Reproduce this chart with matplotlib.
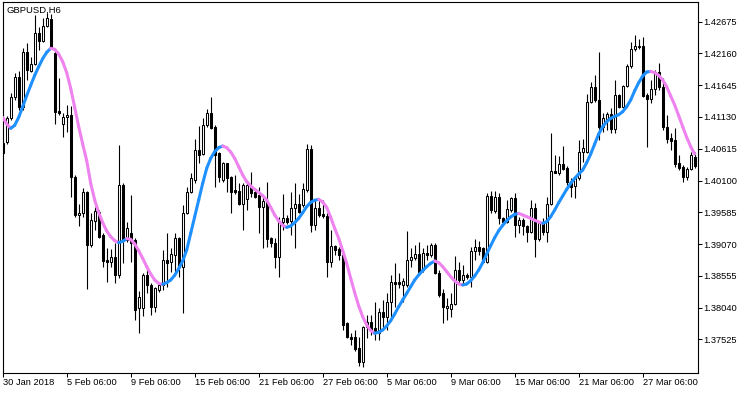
import matplotlib
matplotlib.use("Agg")
import matplotlib.pyplot as plt
from matplotlib.collections import LineCollection
import numpy as np

plt.rcParams['font.family'] = ['Liberation Sans', 'DejaVu Sans']

title = "GBPUSD,H6"

open_ = [1.40714, 1.40730, 1.41108, 1.41448, 1.41783, 1.41286, 1.42188, 1.41880, 1.41983, 1.42496,
         1.42366, 1.42604, 1.42712, 1.42172, 1.41232, 1.41016, 1.41124, 1.41162, 1.40163, 1.39537,
         1.39569, 1.39909, 1.39056, 1.39450, 1.39596, 1.39218, 1.38813, 1.38781, 1.38867, 1.38570,
         1.40028, 1.39137, 1.39256, 1.39137, 1.38030, 1.38030, 1.38570, 1.38408, 1.38057, 1.38327,
         1.38408, 1.38813, 1.38786, 1.38894, 1.39175, 1.38705, 1.39569, 1.39920, 1.40109, 1.40595,
         1.40530, 1.41000, 1.41189, 1.40973, 1.40541, 1.40109, 1.40379, 1.40163, 1.39947, 1.39936,
         1.39720, 1.39796, 1.40001, 1.39920, 1.39866, 1.39666, 1.39769, 1.39164, 1.39094, 1.38856,
         1.39434, 1.39488, 1.39450, 1.39650, 1.39720, 1.39704, 1.39947, 1.40611, 1.39380, 1.39650,
         1.39558, 1.39526, 1.38786, 1.39040, 1.38986, 1.38894, 1.37787, 1.37571, 1.37560, 1.37382,
         1.37166, 1.37722, 1.37814, 1.37706, 1.37625, 1.37976, 1.37895, 1.38138, 1.38462, 1.38457,
         1.38408, 1.38408, 1.38813, 1.38840, 1.38910, 1.38651, 1.38932, 1.38894, 1.39056, 1.38608,
         1.38273, 1.38030, 1.38014, 1.38100, 1.38651, 1.38489, 1.38570, 1.38532, 1.38964, 1.39018,
         1.39002, 1.38786, 1.39850, 1.39612, 1.39839, 1.39488, 1.39434, 1.39623, 1.39812, 1.39380,
         1.39461, 1.39364, 1.39272, 1.39650, 1.39148, 1.39407, 1.39272, 1.39715, 1.40260, 1.40228,
         1.40368, 1.40298, 1.40093, 1.40012, 1.40136, 1.40568, 1.40568, 1.41378, 1.41621, 1.41405,
         1.40973, 1.41092, 1.41178, 1.40930, 1.41486, 1.41297, 1.41632, 1.41956, 1.42226, 1.42258,
         1.42280, 1.41486, 1.41416, 1.41578, 1.41864, 1.41610, 1.40973, 1.40784, 1.40757, 1.40379,
         1.40314, 1.40163, 1.40287, 1.40487]

high = [1.40757, 1.41146, 1.41524, 1.41837, 1.41880, 1.42242, 1.42323, 1.42107, 1.42782, 1.42593,
        1.42728, 1.42809, 1.42798, 1.42215, 1.41756, 1.41189, 1.41324, 1.41308, 1.40190, 1.39720,
        1.39974, 1.39925, 1.39569, 1.39666, 1.39623, 1.39245, 1.39002, 1.38986, 1.39094, 1.40676,
        1.40055, 1.39434, 1.39866, 1.39164, 1.38316, 1.38597, 1.38662, 1.38435, 1.38381, 1.38424,
        1.38975, 1.39245, 1.39002, 1.39245, 1.39191, 1.39704, 1.40001, 1.40217, 1.40768, 1.40984,
        1.41108, 1.41254, 1.41459, 1.41000, 1.40568, 1.40406, 1.40390, 1.40174, 1.40190, 1.40055,
        1.40055, 1.40109, 1.40244, 1.39974, 1.40001, 1.39839, 1.40082, 1.39191, 1.39164, 1.39515,
        1.39882, 1.39542, 1.39920, 1.40055, 1.39882, 1.40066, 1.40692, 1.40676, 1.39785, 1.39785,
        1.39785, 1.39569, 1.39299, 1.39056, 1.39029, 1.38921, 1.37814, 1.37625, 1.37679, 1.37571,
        1.37744, 1.37922, 1.37922, 1.38138, 1.38030, 1.38165, 1.38273, 1.38570, 1.38759, 1.38597,
        1.38516, 1.39288, 1.39002, 1.39056, 1.39110, 1.39002, 1.39056, 1.39083, 1.39094, 1.38651,
        1.38338, 1.38192, 1.38273, 1.38878, 1.38786, 1.38732, 1.38608, 1.39029, 1.39148, 1.39126,
        1.39029, 1.39904, 1.39936, 1.39936, 1.39904, 1.39515, 1.39785, 1.39828, 1.39893, 1.39515,
        1.39488, 1.39380, 1.39785, 1.39731, 1.39434, 1.39488, 1.39839, 1.40876, 1.40514, 1.40498,
        1.40660, 1.40336, 1.40136, 1.40174, 1.40757, 1.40768, 1.41502, 1.41702, 1.41810, 1.42188,
        1.41189, 1.41216, 1.41270, 1.41729, 1.41502, 1.41648, 1.41988, 1.42350, 1.42458, 1.42388,
        1.42431, 1.41513, 1.41729, 1.41891, 1.41999, 1.41756, 1.41162, 1.40865, 1.40946, 1.40514,
        1.40352, 1.40325, 1.40568, 1.40568]

low = [1.40530, 1.40692, 1.41081, 1.41405, 1.41243, 1.41243, 1.41729, 1.41864, 1.41967, 1.42215,
       1.42350, 1.42582, 1.42226, 1.41016, 1.41162, 1.40811, 1.40892, 1.39839, 1.39504, 1.39364,
       1.39515, 1.38338, 1.39029, 1.39299, 1.39164, 1.38705, 1.38462, 1.38705, 1.38435, 1.38516,
       1.38759, 1.39110, 1.38786, 1.37841, 1.37625, 1.37906, 1.38273, 1.37922, 1.37976, 1.38300,
       1.38327, 1.38381, 1.38624, 1.38624, 1.38543, 1.37949, 1.39558, 1.39893, 1.40055, 1.40379,
       1.40514, 1.40973, 1.40930, 1.40001, 1.40082, 1.40082, 1.39920, 1.39569, 1.39882, 1.39704,
       1.39299, 1.39623, 1.39839, 1.39812, 1.39245, 1.39002, 1.39029, 1.39029, 1.38678, 1.38543,
       1.39299, 1.39396, 1.39218, 1.39002, 1.39569, 1.39677, 1.39920, 1.39272, 1.39299, 1.39515,
       1.39488, 1.38543, 1.38705, 1.38894, 1.38813, 1.37679, 1.37544, 1.37436, 1.37344, 1.37096,
       1.37085, 1.37544, 1.37598, 1.37517, 1.37517, 1.37706, 1.37679, 1.37841, 1.38057, 1.38354,
       1.38138, 1.38381, 1.38705, 1.38813, 1.38597, 1.38624, 1.38813, 1.38867, 1.38586, 1.38219,
       1.37787, 1.37841, 1.37895, 1.38084, 1.38435, 1.38408, 1.38500, 1.38381, 1.38813, 1.38894,
       1.38759, 1.38759, 1.39569, 1.39569, 1.39396, 1.39407, 1.39407, 1.39596, 1.39191, 1.39245,
       1.39218, 1.39110, 1.39245, 1.38867, 1.39126, 1.39218, 1.39110, 1.39704, 1.40217, 1.40190,
       1.40271, 1.40028, 1.39839, 1.39812, 1.40109, 1.40406, 1.40541, 1.41351, 1.41378, 1.40757,
       1.40892, 1.40919, 1.40865, 1.40865, 1.41270, 1.41270, 1.41610, 1.41918, 1.42204, 1.42226,
       1.41459, 1.40649, 1.41351, 1.41486, 1.41567, 1.40919, 1.40703, 1.40595, 1.40325, 1.40271,
       1.40082, 1.40109, 1.40271, 1.40298]

close = [1.40552, 1.41108, 1.41448, 1.41783, 1.41286, 1.42188, 1.41891, 1.41983, 1.42485, 1.42366,
         1.42604, 1.42728, 1.42242, 1.41216, 1.41200, 1.41135, 1.41162, 1.40152, 1.39542, 1.39569,
         1.39909, 1.39056, 1.39461, 1.39612, 1.39191, 1.38802, 1.38781, 1.38867, 1.38570, 1.40028,
         1.39126, 1.39337, 1.39083, 1.38003, 1.38219, 1.38570, 1.38408, 1.38057, 1.38354, 1.38408,
         1.38813, 1.38770, 1.38910, 1.39175, 1.38705, 1.39569, 1.39920, 1.40136, 1.40595, 1.40514,
         1.41000, 1.41189, 1.40946, 1.40514, 1.40163, 1.40390, 1.40136, 1.39920, 1.39909, 1.39720,
         1.40028, 1.40023, 1.39893, 1.39839, 1.39677, 1.39769, 1.39148, 1.39083, 1.38856, 1.39434,
         1.39488, 1.39434, 1.39650, 1.39720, 1.39596, 1.39958, 1.40611, 1.39380, 1.39650, 1.39542,
         1.39526, 1.38786, 1.39040, 1.38975, 1.38894, 1.37760, 1.37560, 1.37539, 1.37366, 1.37166,
         1.37722, 1.37814, 1.37668, 1.37625, 1.37976, 1.37895, 1.38138, 1.38462, 1.38424, 1.38419,
         1.38473, 1.38813, 1.38856, 1.38910, 1.38624, 1.38921, 1.38894, 1.39056, 1.38608, 1.38246,
         1.38046, 1.38068, 1.38100, 1.38651, 1.38489, 1.38570, 1.38532, 1.38964, 1.39029, 1.38964,
         1.38786, 1.39850, 1.39623, 1.39839, 1.39488, 1.39434, 1.39634, 1.39812, 1.39380, 1.39461,
         1.39364, 1.39272, 1.39650, 1.39148, 1.39407, 1.39272, 1.39715, 1.40260, 1.40228, 1.40368,
         1.40282, 1.40082, 1.40001, 1.40152, 1.40568, 1.40622, 1.41378, 1.41621, 1.41405, 1.40973,
         1.41108, 1.41178, 1.40930, 1.41486, 1.41297, 1.41632, 1.41956, 1.42226, 1.42280, 1.42280,
         1.41470, 1.41416, 1.41578, 1.41864, 1.41610, 1.40973, 1.40768, 1.40746, 1.40368, 1.40298,
         1.40163, 1.40287, 1.40514, 1.40336]

ma = [1.41124, 1.41016, 1.40946, 1.40995, 1.41124, 1.41297, 1.41475, 1.41643, 1.41805, 1.41945,
      1.42075, 1.42177, 1.42242, 1.42226, 1.42150, 1.42026, 1.41848, 1.41594, 1.41286, 1.40973,
      1.40692, 1.40422, 1.40055, 1.39785, 1.39580, 1.39418, 1.39283, 1.39191, 1.39126, 1.39094,
      1.39115, 1.39159, 1.39148, 1.39072, 1.38964, 1.38840, 1.38705, 1.38586, 1.38489, 1.38435,
      1.38419, 1.38446, 1.38489, 1.38565, 1.38673, 1.38797, 1.38975, 1.39245, 1.39515, 1.39785,
      1.40055, 1.40298, 1.40460, 1.40568, 1.40633, 1.40660, 1.40633, 1.40563, 1.40460, 1.40325,
      1.40190, 1.40082, 1.40012, 1.39958, 1.39909, 1.39855, 1.39785, 1.39666, 1.39542, 1.39445,
      1.39375, 1.39342, 1.39364, 1.39418, 1.39488, 1.39580, 1.39677, 1.39747, 1.39780, 1.39796,
      1.39753, 1.39666, 1.39504, 1.39326, 1.39164, 1.38964, 1.38759, 1.38516, 1.38284, 1.38068,
      1.37895, 1.37760, 1.37668, 1.37625, 1.37641, 1.37679, 1.37744, 1.37830, 1.37938, 1.38057,
      1.38165, 1.38273, 1.38381, 1.38489, 1.38570, 1.38640, 1.38705, 1.38759, 1.38797, 1.38770,
      1.38705, 1.38624, 1.38543, 1.38473, 1.38424, 1.38408, 1.38424, 1.38478, 1.38554, 1.38651,
      1.38770, 1.38910, 1.39045, 1.39175, 1.39288, 1.39375, 1.39450, 1.39510, 1.39553, 1.39569,
      1.39542, 1.39515, 1.39488, 1.39456, 1.39429, 1.39407, 1.39434, 1.39515, 1.39623, 1.39742,
      1.39850, 1.39958, 1.40055, 1.40136, 1.40206, 1.40271, 1.40390, 1.40530, 1.40692, 1.40854,
      1.40973, 1.41054, 1.41108, 1.41140, 1.41167, 1.41216, 1.41297, 1.41405, 1.41556, 1.41686,
      1.41794, 1.41859, 1.41869, 1.41848, 1.41805, 1.41729, 1.41621, 1.41470, 1.41324, 1.41151,
      1.40973, 1.40800, 1.40649, 1.40530]

x_labels = ["30 Jan 2018", "5 Feb 06:00", "9 Feb 06:00", "15 Feb 06:00", "21 Feb 06:00",
            "27 Feb 06:00", "5 Mar 06:00", "9 Mar 06:00", "15 Mar 06:00", "21 Mar 06:00",
            "27 Mar 06:00"]
y_ticks = [1.42675, 1.42160, 1.41645, 1.41130, 1.40615, 1.40100, 1.39585, 1.39070,
           1.38555, 1.38040, 1.37525]

W, H = 750, 394
fig = plt.figure(figsize=(W / 100, H / 100), dpi=100)
fig.patch.set_facecolor('white')
ax = fig.add_axes([2.5 / W, (H - 372.5) / H, 695 / W, 370.5 / H])
ax.set_facecolor('white')

o = np.array(open_); h = np.array(high); l = np.array(low); c = np.array(close)
x = np.arange(len(o))
bull = c >= o

ax.vlines(x, l, h, color='black', linewidth=0.8, zorder=2)
ax.bar(x, np.abs(c - o), bottom=np.minimum(o, c), width=0.5,
       color=np.where(bull, 'white', 'black'), edgecolor='black', linewidth=0.75, zorder=3)

m = np.array(ma)
pts = np.column_stack([x, m])
segs = np.stack([pts[:-1], pts[1:]], axis=1)
cols = np.where(np.diff(m) > 0, '#1E90FF', '#EE82EE')
lc = LineCollection(segs, colors=cols, linewidths=2.2, capstyle='round', zorder=4)
ax.add_collection(lc)

ax.set_xlim(-0.05, 173.7)
ax.set_ylim(1.36990, 1.42993)

ax.set_xticks(np.arange(len(x_labels)) * 16)
ax.set_xticklabels(x_labels, ha='left')
ax.yaxis.tick_right()
ax.set_yticks(y_ticks)
ax.set_yticklabels([f"{v:.5f}" for v in y_ticks])
ax.tick_params(axis='x', length=2.6, width=0.75, pad=1.2, labelsize=6.7, colors='black')
ax.tick_params(axis='y', length=2.6, width=0.75, pad=1.5, labelsize=6.7, colors='black')
for s in ax.spines.values():
    s.set_linewidth(0.8)
    s.set_color('black')

fig.text(6.5 / W, 1 - 10 / H, title, fontsize=6.8, va='center', ha='left')

fig.savefig("out.png", dpi=100, facecolor='white')
